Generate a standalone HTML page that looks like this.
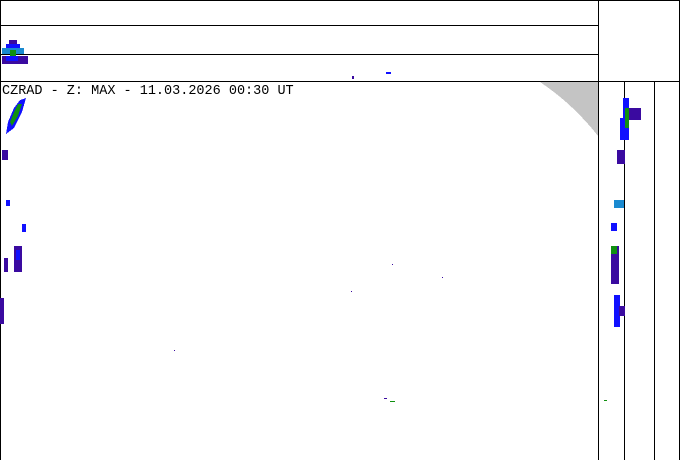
<!DOCTYPE html>
<html><head><meta charset="utf-8"><style>
html,body{margin:0;padding:0;background:#fff;width:680px;height:460px;overflow:hidden}
svg{display:block}
</style></head><body>
<svg width="680" height="460" viewBox="0 0 680 460" xmlns="http://www.w3.org/2000/svg" shape-rendering="crispEdges">
<rect width="680" height="460" fill="#fff"/>
<path d="M540,82 L598,82 L598,136 Q573,104 540,82 Z" fill="#c4c4c4"/>
<g stroke="#000" stroke-width="1">
<line x1="0" y1="0.5" x2="680" y2="0.5"/>
<line x1="0.5" y1="0" x2="0.5" y2="460"/>
<line x1="679.5" y1="0" x2="679.5" y2="460"/>
<line x1="0" y1="25.5" x2="598" y2="25.5"/>
<line x1="0" y1="54.5" x2="598" y2="54.5"/>
<line x1="0" y1="81.5" x2="680" y2="81.5"/>
<line x1="598.5" y1="0" x2="598.5" y2="460"/>
<line x1="624.5" y1="81" x2="624.5" y2="460"/>
<line x1="654.5" y1="81" x2="654.5" y2="460"/>
</g>
<g>
<rect x="9" y="40" width="8" height="4" fill="#3a0aa0"/>
<rect x="6" y="44" width="14" height="4" fill="#1010ff"/>
<rect x="2" y="48" width="22" height="6" fill="#1a8ad0"/>
<rect x="10" y="50" width="6" height="6" fill="#109010"/>
<rect x="2" y="56" width="26" height="8" fill="#3a0aa0"/>
<rect x="6" y="56" width="12" height="5" fill="#1010ff"/>
</g>
<g>
<polygon points="20,100 26,98 22,112 14,128 6,134 8,122 14,108" fill="#1010ff"/>
<polygon points="18,104 22,104 18,116 12,126 10,122 14,112" fill="#109010"/>
<rect x="2" y="150" width="6" height="10" fill="#3a0aa0"/>
<rect x="6" y="200" width="4" height="6" fill="#1010ff"/>
<rect x="22" y="224" width="4" height="8" fill="#1010ff"/>
<rect x="14" y="246" width="8" height="26" fill="#3a0aa0"/>
<rect x="16" y="250" width="4" height="10" fill="#1010ff"/>
<rect x="4" y="258" width="4" height="14" fill="#3a0aa0"/>
<rect x="0" y="298" width="4" height="26" fill="#3a0aa0"/>
</g>
<g>
<rect x="623" y="98" width="6" height="42" fill="#1010ff"/>
<rect x="625" y="108" width="4" height="20" fill="#109010"/>
<rect x="629" y="108" width="12" height="12" fill="#3a0aa0"/>
<rect x="620" y="118" width="4" height="22" fill="#1010ff"/>
<rect x="617" y="150" width="8" height="14" fill="#3a0aa0"/>
<rect x="614" y="200" width="10" height="8" fill="#1a8ad0"/>
<rect x="611" y="223" width="6" height="8" fill="#1010ff"/>
<rect x="611" y="246" width="8" height="38" fill="#3a0aa0"/>
<rect x="611" y="246" width="6" height="8" fill="#109010"/>
<rect x="614" y="295" width="6" height="32" fill="#1010ff"/>
<rect x="619" y="306" width="6" height="10" fill="#3a0aa0"/>
</g>
<g fill="#1010ff">
<rect x="386" y="72" width="5" height="2"/>
<rect x="352" y="76" width="2" height="3" fill="#3a0aa0"/>
<rect x="384" y="398" width="3" height="1" fill="#3a0aa0"/>
<rect x="390" y="401" width="5" height="1" fill="#109010"/>
<rect x="604" y="400" width="3" height="1" fill="#109010"/>
<rect x="392" y="264" width="1" height="1" fill="#3a0aa0"/>
<rect x="442" y="277" width="1" height="1" fill="#3a0aa0"/>
<rect x="351" y="291" width="1" height="1" fill="#3a0aa0"/>
<rect x="174" y="350" width="1" height="1" fill="#3a0aa0"/>
</g>
<text x="2" y="94" font-family="Liberation Mono, monospace" font-size="13.5" fill="#000" shape-rendering="auto">CZRAD - Z: MAX - 11.03.2026 00:30 UT</text>
</svg>
</body></html>
